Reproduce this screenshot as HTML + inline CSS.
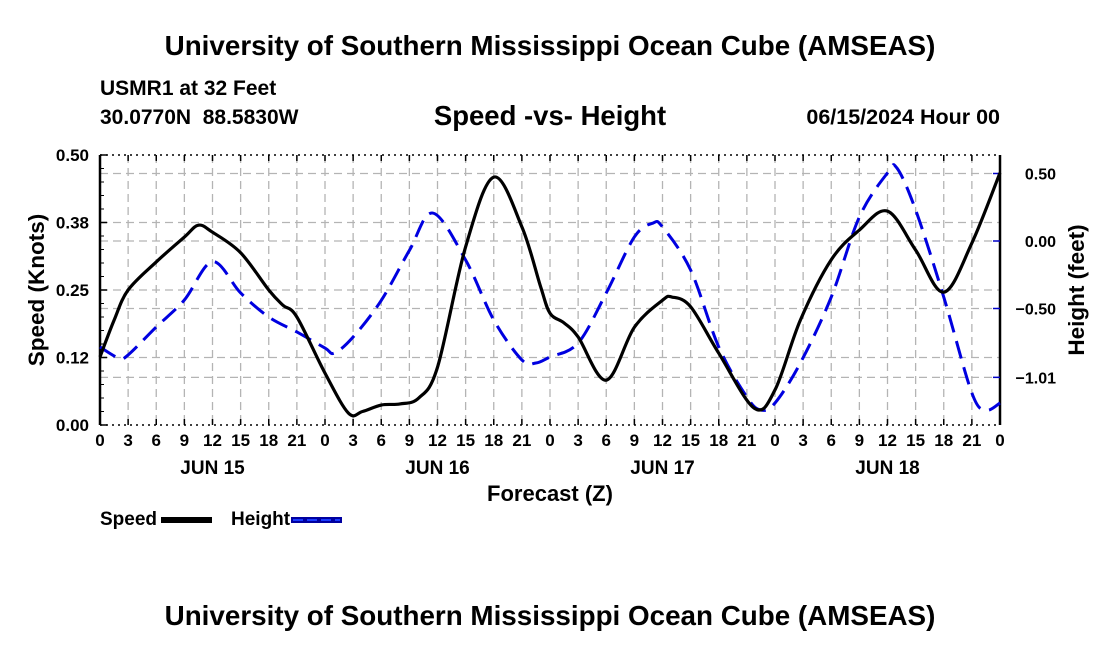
<!DOCTYPE html>
<html><head><meta charset="utf-8"><style>
html,body{margin:0;padding:0;background:#fff;width:1100px;height:650px;overflow:hidden;font-family:"Liberation Sans",sans-serif;}
</style></head><body>
<svg id="chart" width="1100" height="650" xmlns="http://www.w3.org/2000/svg" font-family="Liberation Sans, sans-serif" font-weight="bold">
<rect x="0" y="0" width="1100" height="650" fill="#fff"/>
<text x="550" y="55" font-size="27.8" text-anchor="middle">University of Southern Mississippi Ocean Cube (AMSEAS)</text>
<text x="100" y="95" font-size="21">USMR1 at 32 Feet</text>
<text x="100" y="124" font-size="21" xml:space="preserve">30.0770N  88.5830W</text>
<text x="550" y="125" font-size="27.5" text-anchor="middle">Speed -vs- Height</text>
<text x="1000" y="124" font-size="21.5" text-anchor="end">06/15/2024 Hour 00</text>
<g id="grid"></g>
<g id="axes"></g>
<g id="series"></g>
<text transform="translate(44,290) rotate(-90)" font-size="22.5" text-anchor="middle">Speed (Knots)</text>
<text transform="translate(1084,290) rotate(-90)" font-size="22.5" text-anchor="middle">Height (feet)</text>
<text x="550" y="501" font-size="22" text-anchor="middle">Forecast (Z)</text>
<g>
<text x="100" y="525" font-size="19">Speed</text>
<rect x="161" y="517" width="51" height="6" fill="#000"/>
<text x="231" y="525" font-size="19">Height</text>
<rect x="291" y="517" width="51" height="6" fill="#0000a0"/>
<line x1="293" y1="520" x2="340" y2="520" stroke="#1a3cff" stroke-width="2" stroke-dasharray="10,4"/>
</g>
<text x="550" y="625" font-size="27.8" text-anchor="middle">University of Southern Mississippi Ocean Cube (AMSEAS)</text>
</svg>
<script>
const speedHours = [0,1.5,3,6,9,10.5,12,15,18,19.5,21,24,26.5,28,30,32,34,36,39,42,45,47,48,49.5,51,54,57,60,61,63,66,69.8,72,74.7,78,81,84,87,90,93,96];
const speedValues = [0.126,0.194,0.25,0.302,0.348,0.370,0.357,0.319,0.25,0.222,0.2,0.096,0.022,0.025,0.037,0.039,0.05,0.107,0.330,0.459,0.367,0.256,0.207,0.189,0.163,0.083,0.181,0.231,0.237,0.219,0.133,0.031,0.065,0.194,0.306,0.361,0.396,0.324,0.246,0.337,0.467];
const heightHours = [0,2,3,6,9,12,15,18,21,24,25,27,30,33,35.5,39,42,45,46.5,48,51,54,57,59,60,63,66,69,70.5,72,74.7,78,81,84,85,87,90,93,94.5,96];
const heightValues = [-0.785,-0.867,-0.844,-0.637,-0.437,-0.153,-0.385,-0.563,-0.674,-0.793,-0.830,-0.711,-0.44,-0.07,0.207,-0.141,-0.585,-0.881,-0.904,-0.859,-0.756,-0.385,0.030,0.133,0.104,-0.215,-0.785,-1.156,-1.252,-1.2,-0.904,-0.415,0.178,0.504,0.541,0.230,-0.415,-1.126,-1.252,-1.2];
const leftTicks = [0,0.125,0.25,0.375,0.5];
const leftTickLabels = ["0.00","0.12","0.25","0.38","0.50"];
const rightTicks = [0.5,0,-0.5,-1.01];
const rightTickLabels = ["0.50","0.00","−0.50","−1.01"];
const xTickLabels = ["0","3","6","9","12","15","18","21"];
const dayLabels = ["JUN 15","JUN 16","JUN 17","JUN 18"];

const NS="http://www.w3.org/2000/svg";
const L=100,R=1000,T=155,B=425;
const xs=h=>L+h*(R-L)/96;
const ysL=v=>B-v*(B-T)/0.5;
const ysR=v=>241-v*135;
function mk(tag,attrs,parent){const e=document.createElementNS(NS,tag);for(const k in attrs)e.setAttribute(k,attrs[k]);parent.appendChild(e);return e;}
const grid=document.getElementById('grid'),axes=document.getElementById('axes'),series=document.getElementById('series');
const gs={stroke:"#b4b4b4","stroke-width":1.3,"stroke-dasharray":"8,5"};
for(let h=3;h<96;h+=3){const l=mk('line',Object.assign({x1:xs(h),x2:xs(h),y1:T,y2:B},gs),grid);

}
leftTicks.slice(1,4).forEach(v=>{const l=mk('line',Object.assign({x1:L,x2:R,y1:ysL(v),y2:ysL(v)},gs),grid);

});
rightTicks.forEach(v=>{const l=mk('line',Object.assign({x1:L,x2:R,y1:ysR(v),y2:ysR(v)},gs),grid);

});
mk('line',{x1:L,x2:R,y1:T,y2:T,stroke:"#000","stroke-width":1.5,"stroke-dasharray":"2,4"},axes);
mk('line',{x1:L,x2:R,y1:B,y2:B,stroke:"#000","stroke-width":1.5,"stroke-dasharray":"2,4"},axes);
mk('line',{x1:L,x2:L,y1:T,y2:B,stroke:"#000","stroke-width":2.5},axes);
mk('line',{x1:R,x2:R,y1:T,y2:B,stroke:"#000","stroke-width":2.5},axes);
for(let i=0;i<=32;i++){const x=xs(i*3);
mk('line',{x1:x,x2:x,y1:B,y2:B-6,stroke:"#000","stroke-width":1.5},axes);
mk('line',{x1:x,x2:x,y1:T,y2:T+6,stroke:"#000","stroke-width":1.5},axes);
const t=mk('text',{x:x,y:B+21,"font-size":17,"text-anchor":"middle"},axes);t.textContent=i===32?"0":xTickLabels[i%8];

}
dayLabels.forEach((d,i)=>{const t=mk('text',{x:xs(12+24*i),y:B+49,"font-size":19,"text-anchor":"middle"},axes);t.textContent=d;

});
leftTicks.forEach((v,i)=>{const y=ysL(v);
mk('line',{x1:L,x2:L+7,y1:y,y2:y,stroke:"#000","stroke-width":1.5},axes);
const t=mk('text',{x:L-11,y:y+6,"font-size":17,"text-anchor":"end"},axes);t.textContent=leftTickLabels[i];

});
for(let v=0.025;v<0.5;v+=0.025){mk('line',{x1:L,x2:L+4,y1:ysL(v),y2:ysL(v),stroke:"#000","stroke-width":1},axes);}
rightTicks.forEach((v,i)=>{const y=ysR(v);
mk('line',{x1:R-7,x2:R,y1:y,y2:y,stroke:"#0000c8","stroke-width":1.5},axes);
const t=mk('text',{x:R+56,y:y+6,"font-size":16,"text-anchor":"end"},axes);t.textContent=rightTickLabels[i];

});
function path(hs,vs,ys){const p=hs.map((h,i)=>[xs(h),ys(vs[i])]);let d="M"+p[0][0]+","+p[0][1];
for(let i=0;i<p.length-1;i++){const p0=p[Math.max(0,i-1)],p1=p[i],p2=p[i+1],p3=p[Math.min(p.length-1,i+2)];
const c1=[p1[0]+(p2[0]-p0[0])/6,p1[1]+(p2[1]-p0[1])/6],c2=[p2[0]-(p3[0]-p1[0])/6,p2[1]-(p3[1]-p1[1])/6];
d+=" C"+c1[0]+","+c1[1]+" "+c2[0]+","+c2[1]+" "+p2[0]+","+p2[1];}return d;}
const hp=mk('path',{d:path(heightHours,heightValues,ysR),fill:"none",stroke:"#0000e0","stroke-width":3,"stroke-dasharray":"18,9"},series);


const sp=mk('path',{d:path(speedHours,speedValues,ysL),fill:"none",stroke:"#000","stroke-width":3.2},series);


</script>
</body></html>
